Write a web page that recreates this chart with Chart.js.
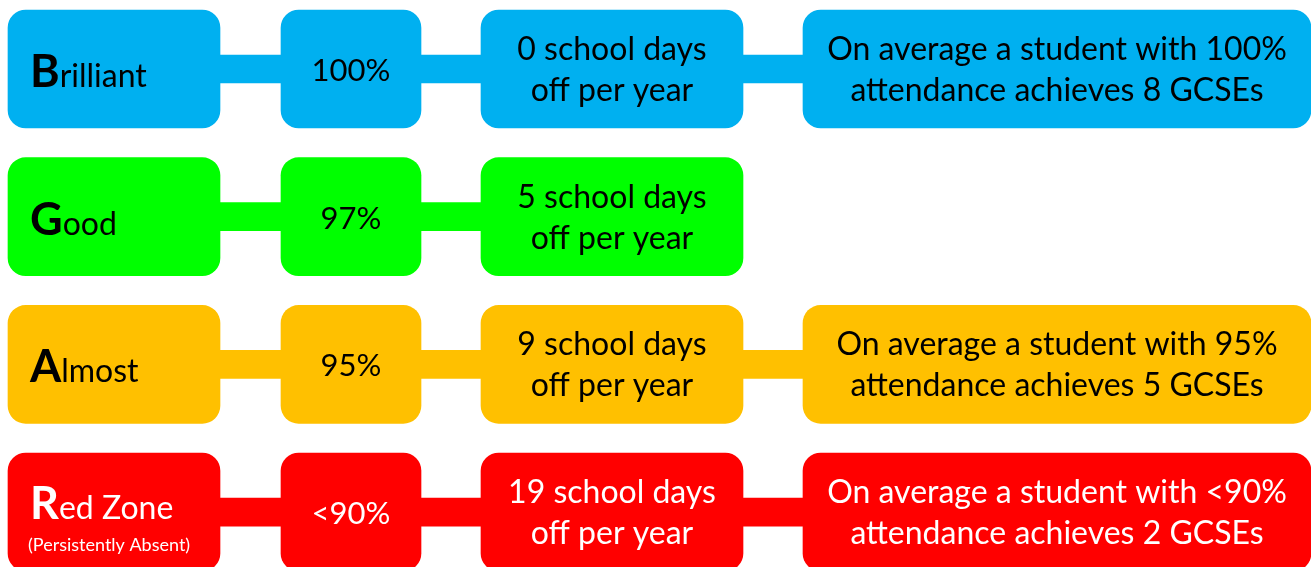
<!DOCTYPE html>
<html>
<head>
<meta charset="utf-8">
<script src="https://cdn.jsdelivr.net/npm/chart.js@4/dist/chart.umd.min.js"></script>
<style>
  html, body { margin: 0; padding: 0; background: #fff; }
  #wrap { width: 1311px; height: 567px; }
</style>
</head>
<body>
<div id="wrap"><canvas id="grafico"></canvas></div>
<script>
// datos
const bandas = ['Brilliant', 'Good', 'Almost', 'Red Zone'];
const subtitulos = ['', '', '', '(Persistently Absent)'];
const asistencia = ['100%', '97%', '95%', '<90%'];
const diasLibres = [0, 5, 9, 19];
const gcses = [8, null, 5, 2];

// estilo
const colores = ['#00B0F0', '#00FF00', '#FFC000', '#FF0000'];
const colorTexto = ['#000000', '#000000', '#000000', '#FFFFFF'];
const fuente = 'Lato, "Open Sans", sans-serif';

// columnas en unidades del eje x (0..1311)
const columnas = [[8, 220], [281, 421], [481, 743], [803, 1311]];

function textosColumna(c, i) {
  if (c === 1) return [asistencia[i]];
  if (c === 2) return [`${diasLibres[i]} school days`, 'off per year'];
  if (c === 3) {
    if (gcses[i] === null) return null;
    return [`On average a student with ${asistencia[i]}`, `attendance achieves ${gcses[i]} GCSEs`];
  }
  return [bandas[i]];
}

const datasets = [];

// conectores
datasets.push({
  label: 'conector',
  data: bandas.map((b, i) => {
    const ultima = gcses[i] === null ? 2 : 3;
    return { x: [columnas[0][1] - 5, columnas[ultima][0] + 5], y: i };
  }),
  backgroundColor: colores,
  barThickness: 28,
  borderRadius: 0,
  order: 10
});

columnas.forEach((col, c) => {
  const puntos = [];
  const fondo = [];
  bandas.forEach((b, i) => {
    if (textosColumna(c, i) === null) return;
    puntos.push({ x: [col[0], col[1]], y: i, fila: i });
    fondo.push(colores[i]);
  });
  datasets.push({
    label: 'col' + c,
    columna: c,
    data: puntos,
    backgroundColor: fondo,
    barThickness: 118,
    borderRadius: 18,
    borderSkipped: false,
    order: 1
  });
});

const pluginTextos = {
  id: 'textos',
  afterDatasetsDraw(chart) {
    const ctx = chart.ctx;
    chart.data.datasets.forEach((ds, d) => {
      if (ds.columna === undefined) return;
      const meta = chart.getDatasetMeta(d);
      meta.data.forEach((el, k) => {
        const i = ds.data[k].fila;
        const c = ds.columna;
        const p = el.getProps(['x', 'y', 'base'], true);
        const cx = (p.x + p.base) / 2;
        const cy = p.y;
        ctx.save();
        ctx.fillStyle = colorTexto[i];
        ctx.textBaseline = 'alphabetic';
        if (c === 0) {
          const nombre = bandas[i];
          const dy = subtitulos[i] ? 7 : 18;
          const x0 = Math.min(p.x, p.base) + 22;
          ctx.textAlign = 'left';
          ctx.font = `bold 45px ${fuente}`;
          ctx.fillText(nombre[0], x0, cy + dy);
          const w = ctx.measureText(nombre[0]).width;
          ctx.font = `32px ${fuente}`;
          ctx.fillText(nombre.slice(1), x0 + w, cy + dy);
          if (subtitulos[i]) {
            ctx.font = `18px ${fuente}`;
            ctx.fillText(subtitulos[i], x0 - 2, cy + 39);
          }
        } else {
          const lineas = textosColumna(c, i);
          ctx.textAlign = 'center';
          if (lineas.length === 1) {
            ctx.font = `31px ${fuente}`;
            ctx.fillText(lineas[0], cx, cy + 12);
          } else {
            ctx.font = `32px ${fuente}`;
            ctx.fillText(lineas[0], cx, cy - 9);
            ctx.fillText(lineas[1], cx, cy + 32);
          }
        }
        ctx.restore();
      });
    });
  }
};

new Chart(document.getElementById('grafico').getContext('2d'), {
  type: 'bar',
  data: { datasets },
  options: {
    indexAxis: 'y',
    responsive: true,
    maintainAspectRatio: false,
    animation: false,
    layout: { padding: 0 },
    datasets: { bar: { grouped: false } },
    scales: {
      x: { type: 'linear', min: 0, max: 1311, display: false, offset: false, grace: 0 },
      y: { type: 'linear', min: -0.467, max: 3.372, reverse: true, display: false, offset: false, grace: 0 }
    },
    plugins: {
      legend: { display: false },
      tooltip: { enabled: false }
    }
  },
  plugins: [pluginTextos]
});
</script>
</body>
</html>
